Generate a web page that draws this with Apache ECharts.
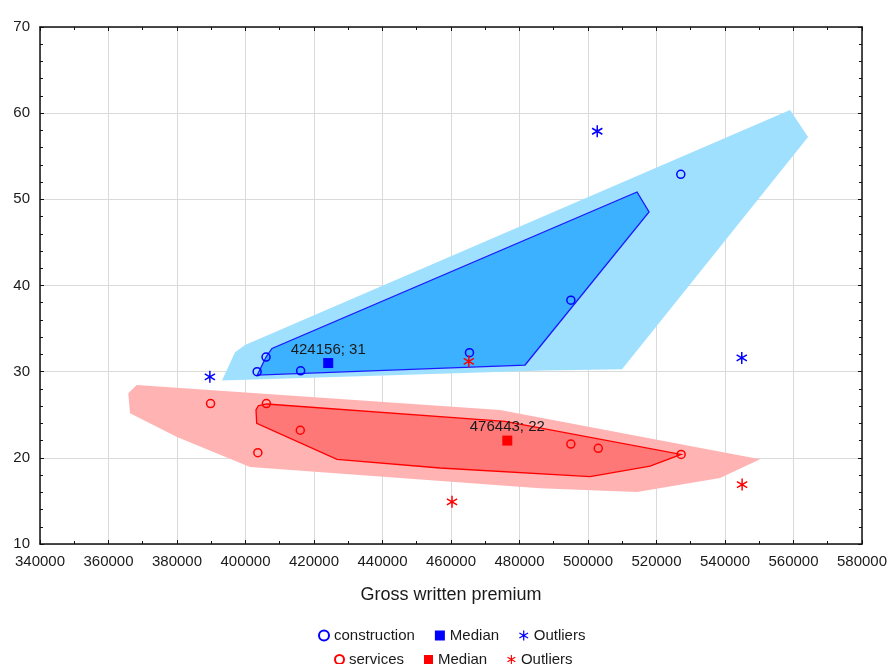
<!DOCTYPE html>
<html>
<head>
<meta charset="utf-8">
<script src="https://cdn.jsdelivr.net/npm/echarts@6/dist/echarts.min.js"></script>
<style>
  html, body { margin: 0; padding: 0; background: #fff; }
  #chart { width: 890px; height: 664px; }
</style>
</head>
<body>
<div id="chart"></div>
<script>
// Axis ranges
const xRange = [340000, 580000, 20000];
const yRange = [10, 70, 10];

// construction group
const constructionPoints = [[403400, 30.0], [406000, 31.7], [416100, 30.1], [465400, 32.2], [495000, 38.3], [527100, 52.9]];
const constructionMedian = [[424156, 31]];
const constructionOutliers = [[389600, 29.4], [502700, 57.9], [544900, 31.6]];
const constructionBag = [[403450, 29.61], [406000, 31.7], [407740, 32.69], [514320, 50.85], [517830, 48.53], [481620, 30.77]];
const constructionFence = [[393140, 28.97], [396940, 32.25], [399860, 33.09], [559000, 60.37], [564260, 57.23], [509940, 30.27], [487460, 30.13]];

// services group
const servicesPoints = [[389800, 26.3], [406100, 26.3], [416000, 23.2], [403600, 20.6], [495000, 21.6], [503000, 21.1], [527200, 20.4]];
const servicesMedian = [[476443, 22]];
const servicesOutliers = [[465200, 31.2], [460300, 14.9], [545000, 16.9]];
const servicesBag = [[403800, 26.07], [406200, 26.25], [475780, 24.22], [527200, 20.4], [518120, 19.05], [500600, 17.83], [456800, 18.82], [426720, 19.83], [403270, 24.0], [403070, 25.55]];
const servicesFence = [[365780, 27.49], [368240, 28.45], [474320, 25.55], [550240, 19.83], [538560, 17.66], [514320, 16.03], [486000, 16.46], [401320, 18.94], [380000, 22.42], [366280, 25.17]];

const BLUE = '#0000ff';
const RED = '#ff0000';
const FONT = "'Liberation Sans', Arial, sans-serif";
const TEXT = '#1a1a1a';
const ASTERISK = 'path://M-0.75,-6L0.75,-6L0.75,6L-0.75,6Z M5.571,2.35L4.821,3.65L-5.571,-2.35L-4.821,-3.65Z M4.821,-3.65L5.571,-2.35L-4.821,3.65L-5.571,2.35Z';

function polygon(name, verts, fill, stroke) {
  return {
    type: 'custom',
    name: name,
    silent: true,
    data: verts,
    renderItem: function (params, api) {
      if (params.dataIndexInside !== 0) return null;
      const pts = verts.map(v => api.coord(v));
      return {
        type: 'polygon',
        shape: { points: pts },
        style: stroke ? { fill: fill, stroke: stroke, lineWidth: 1.3 } : { fill: fill }
      };
    }
  };
}

function group(key, color, points, median, outliers) {
  return [
    {
      type: 'scatter', name: key, data: points,
      symbol: 'circle', symbolSize: 8,
      itemStyle: { color: 'transparent', borderColor: color, borderWidth: 1.5, opacity: 1 }
    },
    {
      type: 'scatter', name: key + ' Median', data: median,
      symbol: 'rect', symbolSize: 10,
      itemStyle: { color: color, opacity: 1 },
      label: {
        show: true, position: 'top', distance: 1,
        fontFamily: FONT, fontSize: 15, color: TEXT,
        formatter: p => p.value[0] + '; ' + p.value[1]
      }
    },
    {
      type: 'scatter', name: key + ' Outliers', data: outliers,
      symbol: ASTERISK, symbolSize: [11, 12],
      itemStyle: { color: color, opacity: 1 }
    }
  ];
}

function legendRow(key, top, left, size) {
  return {
    top: top, left: left, orient: 'horizontal',
    selectedMode: false,
    itemGap: 20, itemWidth: size, itemHeight: size,
    textStyle: { fontFamily: FONT, fontSize: 15, color: TEXT },
    formatter: n => n.replace(/^(construction|services) /, ''),
    data: [key, key + ' Median', key + ' Outliers']
  };
}

const axisLineStyle = { color: '#111', width: 1.5 };
const tickStyle = { color: '#111', width: 1 };

const chart = echarts.init(document.getElementById('chart'), null, { renderer: 'canvas' });
chart.setOption({
  animation: false,
  backgroundColor: '#fff',
  grid: { left: 40, right: 27, top: 27, bottom: 120 },
  xAxis: [
    {
      type: 'value', position: 'bottom',
      min: xRange[0], max: xRange[1], interval: xRange[2],
      axisLine: { show: true, lineStyle: axisLineStyle },
      axisTick: { show: true, inside: true, length: 4, lineStyle: tickStyle },
      minorTick: { show: true, splitNumber: 2, length: 3, lineStyle: tickStyle },
      splitLine: { show: true, lineStyle: { color: '#dadada', width: 1 } },
      axisLabel: { fontFamily: FONT, fontSize: 15, color: TEXT, margin: 10, formatter: v => String(v) },
      name: 'Gross written premium', nameLocation: 'middle', nameGap: 42,
      nameTextStyle: { fontFamily: FONT, fontSize: 18, color: TEXT }
    },
    {
      type: 'value', position: 'top',
      min: xRange[0], max: xRange[1], interval: xRange[2],
      axisLine: { show: true, lineStyle: axisLineStyle },
      axisTick: { show: true, inside: true, length: 4, lineStyle: tickStyle },
      minorTick: { show: true, splitNumber: 2, length: 3, lineStyle: tickStyle },
      splitLine: { show: false },
      axisLabel: { show: false }
    }
  ],
  yAxis: [
    {
      type: 'value', position: 'left',
      min: yRange[0], max: yRange[1], interval: yRange[2],
      axisLine: { show: true, lineStyle: axisLineStyle },
      axisTick: { show: true, inside: true, length: 4, lineStyle: tickStyle },
      minorTick: { show: true, splitNumber: 5, length: 3, lineStyle: tickStyle },
      splitLine: { show: true, lineStyle: { color: '#dadada', width: 1 } },
      axisLabel: { fontFamily: FONT, fontSize: 15, color: TEXT, margin: 10 }
    },
    {
      type: 'value', position: 'right',
      min: yRange[0], max: yRange[1], interval: yRange[2],
      axisLine: { show: true, lineStyle: axisLineStyle },
      axisTick: { show: true, inside: true, length: 4, lineStyle: tickStyle },
      minorTick: { show: true, splitNumber: 5, length: 3, lineStyle: tickStyle },
      splitLine: { show: false },
      axisLabel: { show: false }
    }
  ],
  legend: [
    legendRow('construction', 623, 313, 10),
    legendRow('services', 647, 329, 9)
  ],
  series: [
    polygon('services fence', servicesFence, '#ffb3b3', null),
    polygon('construction fence', constructionFence, '#a0e0ff', null),
    polygon('services bag', servicesBag, '#ff7878', RED),
    polygon('construction bag', constructionBag, '#3cb1ff', '#1a1aff'),
    ...group('construction', BLUE, constructionPoints, constructionMedian, constructionOutliers),
    ...group('services', RED, servicesPoints, servicesMedian, servicesOutliers)
  ]
});
</script>
</body>
</html>
